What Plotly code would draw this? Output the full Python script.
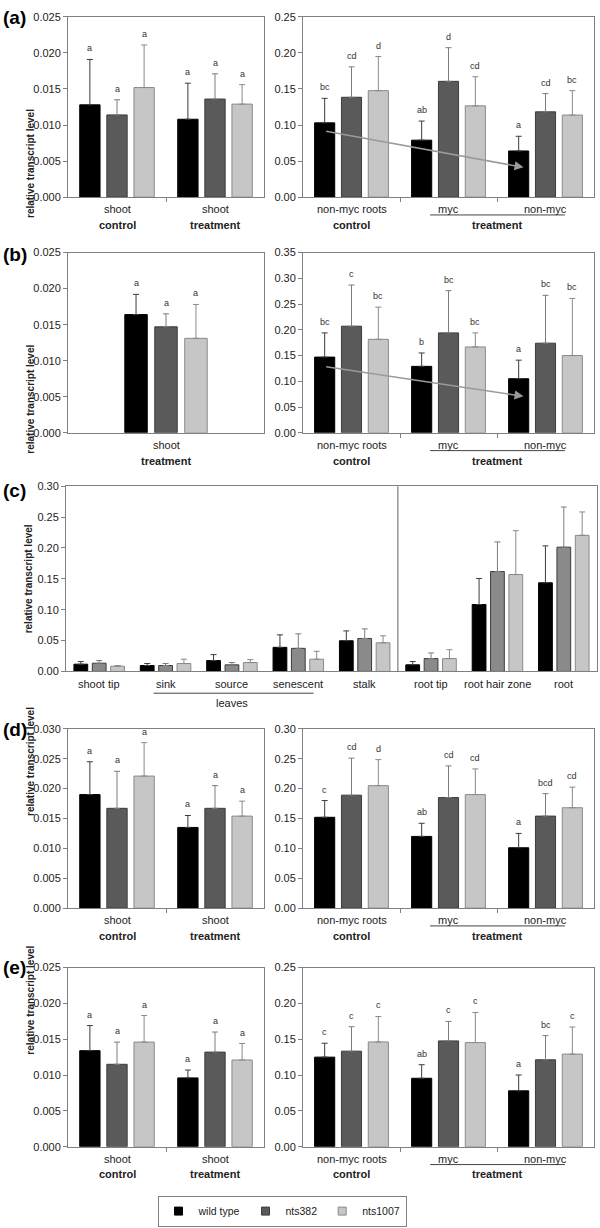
import plotly.graph_objects as go

W, H = 600, 1228

genotypes = ["wild type", "nts382", "nts1007"]
bar_colors = ["#000000", "#5a5a5a", "#c6c6c6"]
bar_colors_c = ["#000000", "#8a8a8a", "#c6c6c6"]
line_colors = ["#000000", "#3c3c3c", "#8a8a8a"]
err_colors = ["#3c3c3c", "#7c7c7c", "#8a8a8a"]

shoot_groups = ["control", "treatment"]
root_cats = ["non-myc roots", "myc", "non-myc"]
tissues = ["shoot tip", "sink", "source", "senescent", "stalk",
           "root tip", "root hair zone", "root"]

# (a)
a_shoot_mean = [[0.0128, 0.0108], [0.0114, 0.0136], [0.0152, 0.0129]]
a_shoot_err = [[0.0063, 0.0050], [0.0021, 0.0035], [0.0059, 0.0027]]
a_shoot_sig = [["a", "a"], ["a", "a"], ["a", "a"]]
a_root_mean = [[0.103, 0.079, 0.064], [0.1385, 0.1606, 0.1183], [0.1477, 0.1266, 0.1138]]
a_root_err = [[0.034, 0.0265, 0.0204], [0.0422, 0.0467, 0.0253], [0.0473, 0.0404, 0.0339]]
a_root_sig = [["bc", "ab", "a"], ["cd", "d", "cd"], ["d", "cd", "bc"]]
a_arrow_y = [0.0917, 0.0413]

# (b)
b_shoot_groups = ["treatment"]
b_shoot_mean = [[0.0164], [0.0147], [0.0131]]
b_shoot_err = [[0.0028], [0.0018], [0.0047]]
b_shoot_sig = [["a"], ["a"], ["a"]]
b_root_mean = [[0.147, 0.129, 0.105], [0.207, 0.194, 0.174], [0.1815, 0.1667, 0.150]]
b_root_err = [[0.047, 0.026, 0.036], [0.080, 0.082, 0.093], [0.0625, 0.0273, 0.111]]
b_root_sig = [["bc", "b", "a"], ["c", "bc", "bc"], ["bc", "bc", "bc"]]
b_arrow_y = [0.1287, 0.0708]

# (c)
c_mean = [[0.0117, 0.0096, 0.0176, 0.039, 0.0497, 0.0107, 0.1084, 0.1436],
          [0.0133, 0.0096, 0.0107, 0.0374, 0.0534, 0.0208, 0.1618, 0.2013],
          [0.0085, 0.0128, 0.0144, 0.0198, 0.0464, 0.0208, 0.157, 0.2205]]
c_err = [[0.0043, 0.0032, 0.0096, 0.0203, 0.016, 0.0053, 0.0422, 0.0598],
         [0.0043, 0.0032, 0.0037, 0.0235, 0.0155, 0.0091, 0.048, 0.0651],
         [0.0011, 0.007, 0.0048, 0.0128, 0.0113, 0.0144, 0.071, 0.0379]]

# (d)
d_shoot_mean = [[0.0190, 0.0135], [0.0167, 0.0167], [0.0221, 0.0154]]
d_shoot_err = [[0.0055, 0.0020], [0.0062, 0.0038], [0.0056, 0.0025]]
d_shoot_sig = [["a", "a"], ["a", "a"], ["a", "a"]]
d_root_mean = [[0.152, 0.120, 0.101], [0.189, 0.185, 0.154], [0.205, 0.190, 0.168]]
d_root_err = [[0.028, 0.022, 0.024], [0.062, 0.053, 0.0375], [0.0435, 0.043, 0.0345]]
d_root_sig = [["c", "ab", "a"], ["cd", "cd", "bcd"], ["d", "cd", "cd"]]

# (e)
e_shoot_mean = [[0.0134, 0.0096], [0.0115, 0.0132], [0.0146, 0.0121]]
e_shoot_err = [[0.0035, 0.0011], [0.0031, 0.0028], [0.0037, 0.0023]]
e_shoot_sig = [["a", "a"], ["a", "a"], ["a", "a"]]
e_root_mean = [[0.125, 0.0955, 0.078], [0.1333, 0.1476, 0.1213], [0.1462, 0.1453, 0.1292]]
e_root_err = [[0.0194, 0.0189, 0.0221], [0.0341, 0.0272, 0.0337], [0.0355, 0.042, 0.0378]]
e_root_sig = [["c", "ab", "a"], ["c", "c", "bc"], ["c", "c", "c"]]

BARGAP = 0.17
GROUPGAP = 0.25
SLOT = (1 - BARGAP) / 3
FONT = "Arial, Liberation Sans, sans-serif"
AXC = "#808080"
TXT = "#222222"

fig = go.Figure()


def px(x):
    return x / W


def py(y):
    return 1 - y / H


def add_panel(n, box, means, errs, sigs, yr, dtick, fmt, colors=bar_colors,
              xr=None, xticks=True):
    l, t, r, b = box
    ncat = len(means[0])
    xs = list(range(ncat))
    xa = "x" if n == 1 else "x%d" % n
    ya = "y" if n == 1 else "y%d" % n
    for i in range(3):
        fig.add_trace(go.Bar(
            x=xs, y=means[i], name=genotypes[i], showlegend=False,
            xaxis=xa, yaxis=ya,
            marker=dict(color=colors[i], line=dict(color=line_colors[i], width=1)),
            error_y=dict(type="data", symmetric=False, array=errs[i],
                         arrayminus=[0] * ncat, color=err_colors[i],
                         thickness=1, width=3),
        ))
        if sigs:
            for k in range(ncat):
                fig.add_annotation(
                    x=k + (i - 1) * SLOT, y=means[i][k] + errs[i][k],
                    xref=xa, yref=ya, text=sigs[i][k], showarrow=False,
                    yanchor="bottom", yshift=4,
                    font=dict(family=FONT, size=9, color="#333333"))
    key = "" if n == 1 else str(n)
    fig.layout["xaxis" + key] = dict(
        domain=[px(l), px(r)], anchor=ya,
        range=xr if xr else [-0.5, ncat - 0.5],
        tickvals=[k + 0.5 for k in range(ncat - 1)] if xticks else [],
        ticks="outside" if xticks else "", ticklen=4, tickcolor=AXC,
        showticklabels=False, showline=True, linecolor=AXC, linewidth=1,
        mirror=True, showgrid=False, zeroline=False)
    fig.layout["yaxis" + key] = dict(
        domain=[py(b), py(t)], anchor=xa, range=yr, dtick=dtick,
        tickformat=fmt, ticks="outside", ticklen=4, tickcolor=AXC,
        tickfont=dict(family=FONT, size=11, color=TXT),
        showline=True, linecolor=AXC, linewidth=1, mirror=True,
        showgrid=False, zeroline=False)
    return xa, ya


def label(xa, x, ypx, text, size=11):
    fig.add_annotation(x=x, y=py(ypx), xref=xa, yref="paper", text=text,
                       showarrow=False, yanchor="middle", xanchor="center",
                       font=dict(family=FONT, size=size, color=TXT))


def shoot_labels(xa, bottom, groups):
    for k, g in enumerate(groups):
        label(xa, k, bottom + 12, "shoot")
        label(xa, k, bottom + 28, "<b>%s</b>" % g)


def root_labels(xa, bottom):
    for k, c in enumerate(root_cats):
        label(xa, k, bottom + 12, c)
    label(xa, 0, bottom + 28, "<b>control</b>")
    label(xa, 1.5, bottom + 28, "<b>treatment</b>")
    fig.add_shape(type="line", xref=xa, yref="paper", x0=0.81, x1=2.2,
                  y0=py(bottom + 18), y1=py(bottom + 18),
                  line=dict(color="#444444", width=1))


def arrow(xa, ya, yvals):
    fig.add_annotation(x=2 - SLOT + 0.05, y=yvals[1], ax=-SLOT, ay=yvals[0],
                       xref=xa, yref=ya, axref=xa, ayref=ya, text="",
                       showarrow=True, arrowhead=2, arrowsize=1.2,
                       arrowwidth=1.5, arrowcolor="#9a9a9a")


def ytitle(ycenter, x=23):
    fig.add_annotation(x=px(x), y=py(ycenter), xref="paper", yref="paper",
                       text="<b>relative transcript level</b>", textangle=-90,
                       showarrow=False,
                       font=dict(family=FONT, size=10, color=TXT))


def panel_letter(text, ycenter):
    fig.add_annotation(x=px(1), y=py(ycenter), xref="paper", yref="paper",
                       text="<b>%s</b>" % text, showarrow=False,
                       xanchor="left", yanchor="middle",
                       font=dict(family=FONT, size=19, color="#000000"))


LEFT = (68, 264)
RIGHT = (303, 594)

# (a)
xa, ya = add_panel(1, (LEFT[0], 11, LEFT[1], 193), a_shoot_mean, a_shoot_err,
                   a_shoot_sig, [0, 0.025], 0.005, ".3f")
shoot_labels(xa, 193, shoot_groups)
xa, ya = add_panel(2, (RIGHT[0], 11, RIGHT[1], 193), a_root_mean, a_root_err,
                   a_root_sig, [0, 0.25], 0.05, ".2f")
root_labels(xa, 193)
arrow(xa, ya, a_arrow_y)
ytitle(102)
panel_letter("(a)", 12)

# (b)
xa, ya = add_panel(3, (LEFT[0], 249, LEFT[1], 431), b_shoot_mean, b_shoot_err,
                   b_shoot_sig, [0, 0.025], 0.005, ".3f", xr=[-0.905, 0.905],
                   xticks=False)
shoot_labels(xa, 431, b_shoot_groups)
xa, ya = add_panel(4, (RIGHT[0], 249, RIGHT[1], 431), b_root_mean, b_root_err,
                   b_root_sig, [0, 0.35], 0.05, ".2f")
root_labels(xa, 431)
arrow(xa, ya, b_arrow_y)
ytitle(340)
panel_letter("(b)", 251)

# (c)
C_TOP, C_BOT = 485, 672
xa, ya = add_panel(5, (66, C_TOP, 597, C_BOT), c_mean, c_err, None,
                   [0, 0.30], 0.05, ".2f", colors=bar_colors_c, xticks=False)
for k, tname in enumerate(tissues):
    label(xa, k, C_BOT + 13, tname)
fig.add_shape(type="line", xref=xa, yref="paper", x0=0.82, x1=3.23,
              y0=py(C_BOT + 22), y1=py(C_BOT + 22),
              line=dict(color="#444444", width=1))
label(xa, 2, C_BOT + 32, "leaves")
fig.add_shape(type="line", xref=xa, yref=ya + " domain", x0=4.5, x1=4.5,
              y0=0, y1=1, line=dict(color="#606060", width=1))
ytitle((C_TOP + C_BOT) / 2, x=21)
panel_letter("(c)", 489)

# (d)
xa, ya = add_panel(6, (LEFT[0], 730, LEFT[1], 911), d_shoot_mean, d_shoot_err,
                   d_shoot_sig, [0, 0.030], 0.005, ".3f")
shoot_labels(xa, 911, shoot_groups)
xa, ya = add_panel(7, (RIGHT[0], 730, RIGHT[1], 911), d_root_mean, d_root_err,
                   d_root_sig, [0, 0.30], 0.05, ".2f")
root_labels(xa, 911)
ytitle(820)
panel_letter("(d)", 731)

# (e)
xa, ya = add_panel(8, (LEFT[0], 971, LEFT[1], 1152), e_shoot_mean, e_shoot_err,
                   e_shoot_sig, [0, 0.025], 0.005, ".3f")
shoot_labels(xa, 1152, shoot_groups)
xa, ya = add_panel(9, (RIGHT[0], 971, RIGHT[1], 1152), e_root_mean, e_root_err,
                   e_root_sig, [0, 0.25], 0.05, ".2f")
root_labels(xa, 1152)
ytitle(1061)
panel_letter("(e)", 971)

# legend keys: small squares as in the original
for i in range(3):
    fig.add_trace(go.Scatter(
        x=[None], y=[None], mode="markers", name=genotypes[i],
        xaxis="x", yaxis="y", showlegend=True,
        marker=dict(symbol="square", size=8, color=bar_colors[i],
                    line=dict(color=line_colors[i], width=1)),
    ))

fig.update_layout(
    width=W, height=H, autosize=False,
    margin=dict(l=0, r=0, t=0, b=0),
    paper_bgcolor="white", plot_bgcolor="white",
    barmode="group", bargap=BARGAP, bargroupgap=GROUPGAP,
    font=dict(family=FONT, size=11, color=TXT),
    legend=dict(orientation="h", traceorder="normal", x=px(282),
                xanchor="center", y=py(1217), yanchor="middle",
                bordercolor=AXC, borderwidth=1, bgcolor="white",
                itemwidth=30, font=dict(family=FONT, size=10.5, color=TXT)),
)

fig.write_html("out.html", config={"displayModeBar": False},
               post_script="document.body.style.margin='0';")
